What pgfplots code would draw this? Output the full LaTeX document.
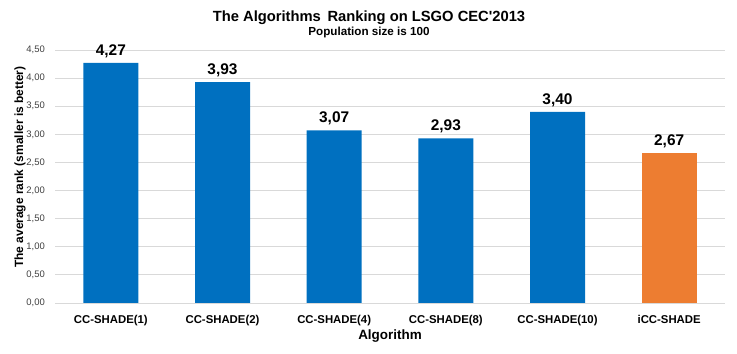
\documentclass[border=0pt]{standalone}
\usepackage{pgfplots}
\pgfplotsset{compat=1.18}
\usepackage{fontspec}
\setmainfont{Liberation Sans}
\definecolor{barblue}{HTML}{0070C0}
\definecolor{barorange}{HTML}{ED7D31}
\definecolor{gridgray}{HTML}{D9D9D9}
\definecolor{ticktext}{HTML}{404040}
\begin{document}
\begin{tikzpicture}
\useasboundingbox (-55bp,-51bp) rectangle (682bp,303bp);
\begin{axis}[
  at={(0,0)}, anchor=south west,
  scale only axis, width=670bp, height=253bp,
  ybar, bar width=55bp,
  xmin=-0.5, xmax=5.5, ymin=0, ymax=4.5,
  xtick={0,1,2,3,4,5},
  xticklabels={CC-SHADE(1),CC-SHADE(2),CC-SHADE(4),CC-SHADE(8),CC-SHADE(10),iCC-SHADE},
  ytick={0,0.5,1,1.5,2,2.5,3,3.5,4,4.5},
  ymajorgrids, grid style={gridgray, line width=0.9pt},
  axis line style={draw=none},
  major tick length=0pt,
  yticklabel style={/pgf/number format/.cd, fixed, fixed zerofill, precision=2, use comma, assume math mode=true,
    /tikz/.cd, font=\fontsize{9.5}{10}\selectfont, text=ticktext, anchor=east, inner sep=0pt, xshift=-10bp},
  xticklabel style={font=\bfseries\fontsize{11.4}{11.4}\selectfont, anchor=base, inner sep=0pt, yshift=-20bp},
  xlabel={Algorithm},
  xlabel style={font=\bfseries\fontsize{13.5}{14}\selectfont, at={(axis description cs:0.5,-0.13)}, anchor=center},
  ylabel={The average rank (smaller is better)},
  ylabel style={font=\bfseries\fontsize{12}{12}\selectfont, at={(axis description cs:-0.0522,0.537)}, anchor=center},
  point meta=explicit symbolic,
  nodes near coords,
  every node near coord/.append style={font=\bfseries\fontsize{15.5}{15.5}\selectfont, anchor=base, inner sep=0pt, yshift=7.5bp, text=black},
]
\addplot[fill=barblue, draw=none, bar shift=0pt] table[meta=lab] {
x y lab
0 4.27 {4,27}
1 3.93 {3,93}
2 3.07 {3,07}
3 2.93 {2,93}
4 3.40 {3,40}
};
\addplot[fill=barorange, draw=none, bar shift=0pt] table[meta=lab] {
x y lab
5 2.67 {2,67}
};
\end{axis}
\node[font=\bfseries\fontsize{14.8}{14.8}\selectfont, anchor=base] at (314bp,281bp) {The Algorithms\, Ranking on LSGO CEC\textquotesingle 2013};
\node[font=\bfseries\fontsize{11.7}{11.7}\selectfont, anchor=base] at (314bp,267bp) {Population size is 100};
\end{tikzpicture}
\end{document}
